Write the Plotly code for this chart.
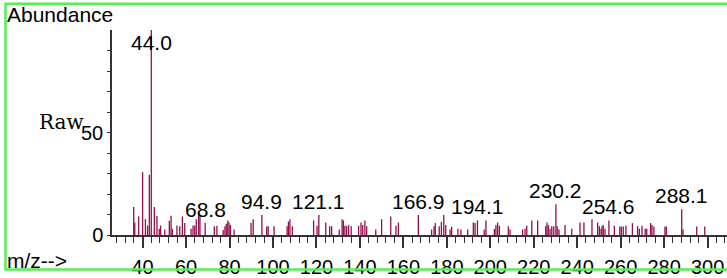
import plotly.graph_objects as go

# ---- data ----
mz = [35.9, 36.4, 38.2, 40.0, 41.3, 42.3, 43.1, 44.0, 45.4, 46.6, 47.7, 48.3, 50.2, 52.3, 53.1, 53.7,
      55.8, 57.1, 58.3, 59.4, 62.3, 63.2, 64.0, 64.7, 65.8, 66.4, 68.8,
      73.0, 74.2, 77.1, 77.9, 78.5, 79.2, 79.8, 80.4, 82.1, 89.9, 90.9, 94.9, 97.1, 97.8, 100.5,
      106.5, 107.1, 107.8, 108.9, 118.7, 120.3, 121.1, 124.3, 126.1, 127.0,
      130.5, 131.8, 132.4, 133.1, 133.9, 134.8, 136.0, 139.4, 140.5, 141.3, 142.3, 143.1, 147.3,
      150.0, 154.2, 156.6, 157.7, 166.9, 173.0, 174.1, 174.7, 176.5, 177.5, 178.6, 179.5, 181.5,
      182.2, 185.1,
      186.5, 189.6, 192.2, 193.0, 194.1, 197.2, 198.0, 201.9, 202.6, 203.4, 204.2, 208.3, 209.1,
      214.9, 216.0, 216.8, 219.1, 221.8, 225.5, 226.1, 226.7, 227.5, 228.3, 229.2, 230.2, 230.8,
      231.6, 234.4, 237.5, 241.3,
      243.1, 246.8, 249.4, 250.2, 251.0, 251.4, 252.0, 252.8, 254.6, 257.1, 259.6, 260.3, 261.2,
      262.4, 265.4, 267.8, 268.6, 269.8, 271.3, 272.0, 273.8, 274.4, 275.3, 280.4, 281.0, 288.1,
      288.7, 295.0, 298.7]

abundance = [13.7, 6.1, 9.0, 30.7, 7.7, 4.6, 29.4, 100, 13.7, 9.3, 3.0, 4.6, 2.7, 6.9, 9.4, 3.0,
             4.6, 4.3, 9.0, 5.8, 3.0, 4.6, 4.6, 7.7, 10.9, 9.0, 6.0,
             4.3, 4.5, 2.4, 4.3, 5.5, 7.1, 6.1, 4.9, 2.7, 5.8, 7.7, 9.8, 4.1, 4.3, 4.3,
             4.3, 6.6, 7.7, 4.3, 7.1, 4.5, 9.8, 6.1, 4.3, 4.3,
             2.7, 7.7, 7.1, 4.5, 4.3, 4.9, 4.3, 4.5, 6.1, 4.9, 7.1, 4.3, 2.7,
             7.7, 9.0, 4.5, 6.1, 9.8, 2.7, 4.3, 5.8, 4.3, 6.4, 9.8, 4.9, 2.7,
             4.1, 3.0,
             2.7, 2.7, 6.1, 5.8, 7.1, 2.7, 7.1, 3.0, 4.9, 6.1, 4.5, 4.3, 2.7,
             2.7, 3.0, 4.5, 7.1, 7.1, 4.3, 6.1, 4.9, 3.0, 4.3, 4.3, 15.0, 4.3,
             2.7, 4.9, 3.0, 6.1,
             6.1, 7.7, 6.1, 4.3, 3.0, 4.3, 4.9, 3.0, 7.1, 4.5, 4.1, 4.1, 4.1,
             4.5, 5.8, 4.3, 3.0, 4.5, 3.0, 3.0, 5.8, 4.9, 4.1, 4.1, 4.1, 12.6,
             2.7, 4.1, 4.1]

labeled_mz = [44.0, 68.8, 94.9, 121.1, 166.9, 194.1, 230.2, 254.6, 288.1]

x_tick_vals = [40, 60, 80, 100, 120, 140, 160, 180, 200, 220, 240, 260, 280, 300]
y_tick_vals = [0, 10, 20, 30, 40, 50, 60, 70, 80, 90]
y_tick_text = ["0", "", "", "", "", "50", "", "", "", ""]

# ---- styling ----
BAR = "#92104c"
AXIS = "#333333"
GREEN = "#55ee55"
FONT = "Liberation Sans, Arial, sans-serif"
FS = 21

W, H = 727, 278
ML, MR, MT, MB = 112, 0, 30, 37
PW, PH = W - ML - MR, H - MT - MB
X0 = 25.92
XSCALE = 2.173  # px per m/z unit
X1 = X0 + PW / XSCALE

xs, ys = [], []
for m, a in zip(mz, abundance):
    xs += [m, m, None]
    ys += [0, a, None]

fig = go.Figure(go.Scatter(x=xs, y=ys, mode="lines",
                           line=dict(color=BAR, width=1.3),
                           hoverinfo="skip", showlegend=False))

def px_x(px):
    return (px - ML) / PW

def px_y(py):
    return (H - MB - py) / PH

annotations = []
ymax = max(abundance)
for lm in labeled_mz:
    a = abundance[mz.index(lm)]
    if a >= ymax:
        annotations.append(dict(x=lm, y=0.94 * ymax, xref="x", yref="y", text=f"{lm:.1f}",
                                showarrow=False, yanchor="middle", xanchor="center",
                                font=dict(family=FONT, size=FS, color="black")))
    else:
        annotations.append(dict(x=lm, y=a, xref="x", yref="y", text=f"{lm:.1f}",
                                showarrow=False, yanchor="bottom", xanchor="center", yshift=0,
                                font=dict(family=FONT, size=FS, color="black")))

annotations += [
    dict(x=px_x(5), y=px_y(14.5), xref="paper", yref="paper", text="Abundance",
         showarrow=False, xanchor="left", yanchor="middle",
         font=dict(family=FONT, size=FS, color="black")),
    dict(x=px_x(5), y=px_y(267), xref="paper", yref="paper", text="m/z-->",
         showarrow=False, xanchor="left", yanchor="middle",
         font=dict(family=FONT, size=FS, color="black")),
    dict(x=px_x(86), y=px_y(125), xref="paper", yref="paper", text="Raw",
         showarrow=False, xanchor="right", yanchor="middle",
         font=dict(family="DejaVu Serif, serif", size=20, color="black")),
]

fig.update_layout(
    width=W, height=H,
    margin=dict(l=ML, r=MR, t=MT, b=MB, pad=0),
    paper_bgcolor="white", plot_bgcolor="white",
    showlegend=False,
    annotations=annotations,
    shapes=[dict(type="rect", xref="paper", yref="paper",
                 x0=px_x(5.5), x1=px_x(730), y0=px_y(276.5), y1=px_y(3),
                 line=dict(color=GREEN, width=2.5), layer="above")],
    xaxis=dict(range=[X0, X1], showgrid=False, zeroline=False,
               showline=True, linecolor=AXIS, linewidth=1.5,
               ticks="outside", ticklen=11, tickwidth=1.5, tickcolor=AXIS,
               tickmode="array", tickvals=x_tick_vals, ticklabelstandoff=2,
               tickfont=dict(family=FONT, size=FS - 1, color="black"),
               minor=dict(tickmode="linear", tick0=0, dtick=4, ticks="outside",
                          ticklen=6, tickwidth=1, tickcolor=AXIS, showgrid=False)),
    yaxis=dict(range=[0, 100], showgrid=False, zeroline=False,
               showline=True, linecolor=AXIS, linewidth=1.5,
               ticks="outside", ticklen=3, tickwidth=1, tickcolor=AXIS,
               tickmode="array", tickvals=y_tick_vals, ticktext=y_tick_text,
               tickfont=dict(family=FONT, size=FS - 1, color="black")),
)

fig.write_html("out.html", config={"displayModeBar": False},
               post_script="document.body.style.margin='0';document.body.style.overflow='hidden';")
